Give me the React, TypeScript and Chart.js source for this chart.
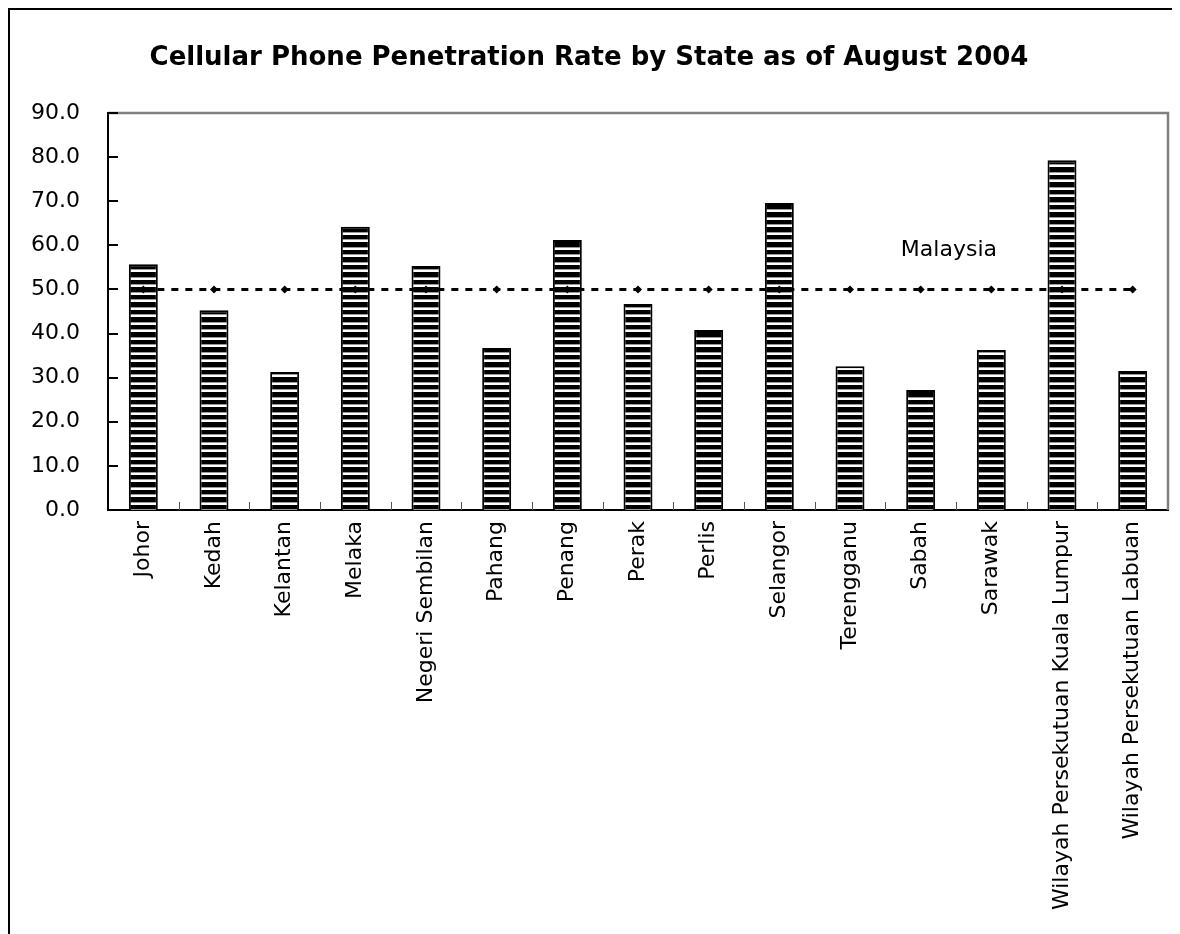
import React, { useEffect, useRef } from "react";
import { Chart, registerables } from "chart.js";

Chart.register(...registerables);

const TITLE = "Cellular Phone Penetration Rate by State as of August 2004";
const states = [
  "Johor",
  "Kedah",
  "Kelantan",
  "Melaka",
  "Negeri Sembilan",
  "Pahang",
  "Penang",
  "Perak",
  "Perlis",
  "Selangor",
  "Terengganu",
  "Sabah",
  "Sarawak",
  "Wilayah Persekutuan Kuala Lumpur",
  "Wilayah Persekutuan Labuan",
];
const penetration = [55.7, 45.3, 31.3, 64.2, 55.3, 36.7, 61.2, 46.7, 40.8, 69.6, 32.6, 27.2, 36.3, 79.3, 31.5];
const malaysiaRate = [50.0, 50.0, 50.0, 50.0, 50.0, 50.0, 50.0, 50.0, 50.0, 50.0, 50.0, 50.0, 50.0, 50.0, 50.0];
const malaysiaLabel = "Malaysia";
const malaysiaLabelAt = { index: 11.4, value: 58.9 };
const yMin = 0;
const yMax = 90;
const yStep = 10;

const FONT = "'DejaVu Sans', Verdana, sans-serif";

function makeStripePattern(): CanvasPattern | string {
  const c = document.createElement("canvas");
  c.width = 8;
  c.height = 15;
  const g = c.getContext("2d");
  if (!g) return "#000";
  g.fillStyle = "#ffffff";
  g.fillRect(0, 0, 8, 15);
  g.fillStyle = "#000000";
  g.fillRect(0, 0, 8, 4);
  g.fillRect(0, 7, 8, 5);
  g.fillStyle = "#9a9a9a";
  g.fillRect(0, 4, 8, 1);
  g.fillRect(0, 12, 8, 1);
  const p = g.createPattern(c, "repeat");
  return p || "#000";
}

const framePlugin = {
  id: "framePlugin",
  afterDatasetsDraw(chart: any) {
    const { ctx, chartArea } = chart;
    const { left, right, top, bottom } = chartArea;
    ctx.save();
    ctx.strokeStyle = "#808080";
    ctx.lineWidth = 2.5;
    ctx.beginPath();
    ctx.moveTo(left, top);
    ctx.lineTo(right, top);
    ctx.lineTo(right, bottom);
    ctx.stroke();
    const ys = chart.scales.y;
    ctx.strokeStyle = "#000";
    ctx.lineWidth = 2;
    ctx.beginPath();
    ys.ticks.forEach((t: any) => {
      const py = Math.round(ys.getPixelForValue(t.value));
      ctx.moveTo(left, py);
      ctx.lineTo(left + 10, py);
    });
    ctx.stroke();
    const xs = chart.scales.x;
    ctx.lineWidth = 1;
    ctx.strokeStyle = "#555";
    ctx.beginPath();
    for (let i = 1; i < states.length; i++) {
      const px = Math.round(xs.getPixelForValue(i - 0.5)) + 0.5;
      ctx.moveTo(px, bottom);
      ctx.lineTo(px, bottom - 8);
    }
    ctx.stroke();
    ctx.restore();
  },
  afterDraw(chart: any) {
    const { ctx } = chart;
    const xs = chart.scales.x;
    const ys = chart.scales.y;
    ctx.save();
    ctx.fillStyle = "#000";
    ctx.font = `22px ${FONT}`;
    ctx.textAlign = "center";
    ctx.textBaseline = "middle";
    ctx.fillText(
      malaysiaLabel,
      xs.getPixelForValue(malaysiaLabelAt.index),
      ys.getPixelForValue(malaysiaLabelAt.value)
    );
    ctx.restore();
  },
};

export default function App() {
  const canvasRef = useRef<HTMLCanvasElement | null>(null);

  useEffect(() => {
    document.documentElement.style.overflow = "hidden";
    const canvas = canvasRef.current;
    if (!canvas) return;
    const pattern = makeStripePattern();
    const chart = new Chart(canvas, {
      type: "bar",
      data: {
        labels: states,
        datasets: [
          {
            type: "line",
            label: malaysiaLabel,
            data: malaysiaRate,
            borderColor: "#000",
            borderWidth: 3,
            borderDash: [7, 7],
            pointStyle: "rectRot",
            pointRadius: 4,
            pointBackgroundColor: "#000",
            pointBorderColor: "#000",
            pointBorderWidth: 0,
            fill: false,
            order: 0,
          } as any,
          {
            type: "bar",
            label: "Penetration rate",
            data: penetration,
            backgroundColor: pattern as any,
            borderColor: "#000",
            borderWidth: 2,
            barPercentage: 0.41,
            categoryPercentage: 1,
            order: 1,
          } as any,
        ],
      },
      options: {
        animation: false,
        responsive: true,
        maintainAspectRatio: false,
        layout: { padding: { left: 0, right: 12, top: 0, bottom: 0 } },
        plugins: {
          legend: { display: false },
          tooltip: { enabled: false },
          title: {
            display: true,
            text: TITLE,
            color: "#000",
            font: { family: FONT, size: 26, weight: "bold", lineHeight: 1.2 },
            padding: { top: 32.4, bottom: 39.4 },
          },
        },
        scales: {
          x: {
            grid: { display: false, drawTicks: false },
            border: { display: true, color: "#000", width: 2 },
            ticks: {
              color: "#000",
              font: { family: FONT, size: 22 },
              minRotation: 90,
              maxRotation: 90,
              autoSkip: false,
              padding: 11,
            },
            afterFit(scale: any) {
              scale.height = 424;
              scale.paddingLeft = 0;
              scale.paddingRight = 0;
            },
          },
          y: {
            min: yMin,
            max: yMax,
            grid: { display: false, drawTicks: false },
            border: { display: true, color: "#000", width: 2 },
            ticks: {
              stepSize: yStep,
              color: "#000",
              font: { family: FONT, size: 22 },
              padding: 28,
              callback: (v: any) => Number(v).toFixed(1),
            },
            afterFit(scale: any) {
              scale.width = 98;
              scale.paddingTop = 0;
              scale.paddingBottom = 0;
            },
          },
        },
      },
      plugins: [framePlugin],
    });
    return () => chart.destroy();
  }, []);

  return (
    <div
      style={{
        width: 1172,
        height: 926,
        boxSizing: "border-box",
        borderLeft: "2px solid #000",
        borderTop: "2px solid #000",
        background: "#fff",
        position: "relative",
      }}
    >
      <div style={{ position: "relative", width: 1170, height: 924 }}>
        <canvas ref={canvasRef} />
      </div>
    </div>
  );
}
